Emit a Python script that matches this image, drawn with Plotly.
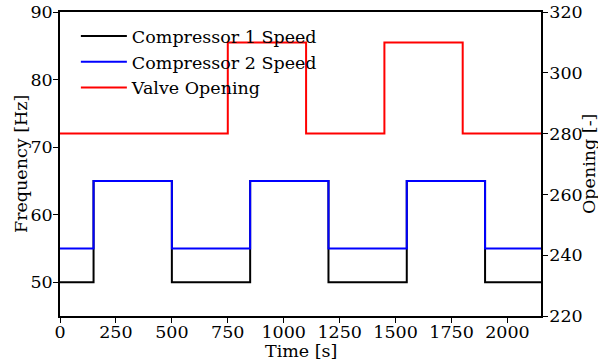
import plotly.graph_objects as go

time = [0, 150, 500, 850, 1200, 1550, 1900, 2150]
comp1 = [50, 65, 50, 65, 50, 65, 50, 50]
comp2 = [55, 65, 55, 65, 55, 65, 55, 55]
valve_time = [0, 750, 1100, 1450, 1800, 2150]
valve = [280, 310, 280, 310, 280, 280]

FONT = "DejaVu Serif"
FS = 17.5

fig = go.Figure()
fig.add_trace(go.Scatter(x=time, y=comp1, mode="lines", line_shape="hv",
                         line=dict(color="black", width=2), name="Compressor 1 Speed"))
fig.add_trace(go.Scatter(x=time, y=comp2, mode="lines", line_shape="hv",
                         line=dict(color="blue", width=2), name="Compressor 2 Speed"))
fig.add_trace(go.Scatter(x=valve_time, y=valve, mode="lines", line_shape="hv",
                         line=dict(color="red", width=2), name="Valve Opening", yaxis="y2"))

axis_common = dict(showgrid=False, zeroline=False, showline=True, linecolor="black",
                   linewidth=1.5, ticks="outside", ticklen=5, tickwidth=1.2, automargin=False,
                   tickcolor="black", tickfont=dict(family=FONT, size=FS, color="black"))

fig.update_layout(
    width=598, height=363,
    margin=dict(l=60, r=57, t=12, b=47),
    plot_bgcolor="white", paper_bgcolor="white",
    font=dict(family=FONT, size=FS, color="black"),
    xaxis=dict(range=[0, 2150], tickvals=[0, 250, 500, 750, 1000, 1250, 1500, 1750, 2000],
               mirror=True, ticklabelstandoff=-6, **axis_common),
    yaxis=dict(range=[45, 90], tickvals=[50, 60, 70, 80, 90], ticklabelstandoff=-3,
               **axis_common),
    yaxis2=dict(range=[220, 320], tickvals=[220, 240, 260, 280, 300, 320], overlaying="y",
                side="right", ticklabelstandoff=-2, **axis_common),
    legend=dict(x=0.033, y=0.98, xanchor="left", yanchor="top", bgcolor="rgba(0,0,0,0)",
                font=dict(family=FONT, size=FS), itemwidth=46),
    showlegend=True,
    annotations=[
        dict(text="Time [s]", xref="paper", yref="paper", x=0.5, y=(316 - 351) / 304,
             xanchor="center", yanchor="middle", showarrow=False, font=dict(family=FONT, size=FS)),
        dict(text="Frequency [Hz]", xref="paper", yref="paper", x=(21 - 60) / 481, y=0.5,
             xanchor="center", yanchor="middle", textangle=-90, showarrow=False,
             font=dict(family=FONT, size=FS)),
        dict(text="Opening [-]", xref="paper", yref="paper", x=(589 - 60) / 481, y=0.5,
             xanchor="center", yanchor="middle", textangle=-90, showarrow=False,
             font=dict(family=FONT, size=FS)),
    ],
)

fig.write_html("out.html")
